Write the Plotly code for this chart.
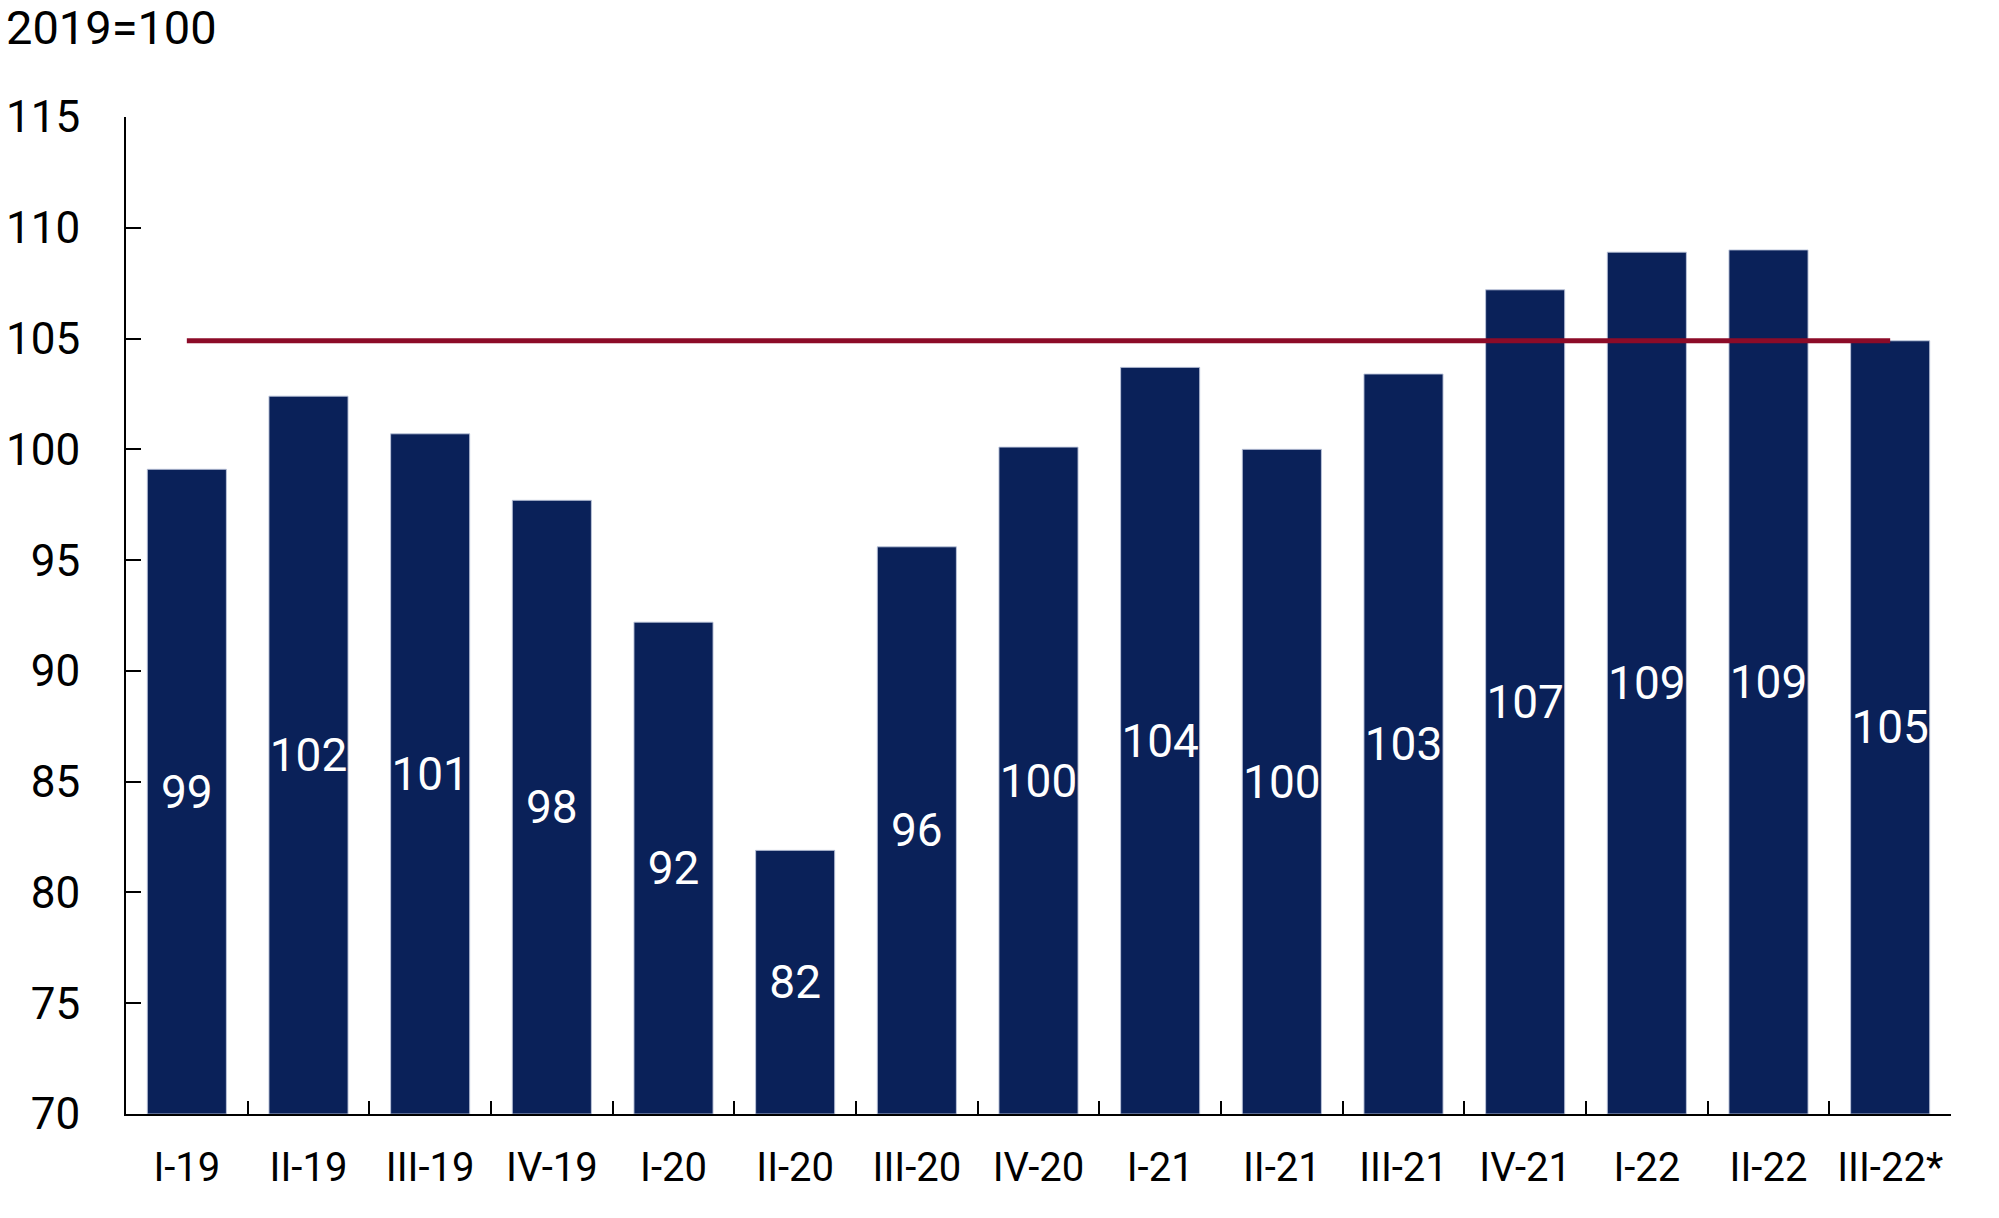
import plotly.graph_objects as go

categories = ["I-19", "II-19", "III-19", "IV-19", "I-20", "II-20", "III-20", "IV-20",
              "I-21", "II-21", "III-21", "IV-21", "I-22", "II-22", "III-22*"]
values = [99.1, 102.4, 100.7, 97.7, 92.2, 81.9, 95.6, 100.1,
          103.7, 100.0, 103.4, 107.2, 108.9, 109.0, 104.9]
reference_level = 104.9
y_min, y_max = 70, 115
y_tickvals = [70, 75, 80, 85, 90, 95, 100, 105, 110, 115]
unit_label = "2019=100"

BAR_COLOR = "#0a2159"
LINE_COLOR = "#8c0b28"
FONT = "Roboto"
FS = 44

fig = go.Figure()
fig.add_trace(go.Bar(
    x=categories, y=[v - y_min for v in values], base=y_min,
    marker=dict(color=BAR_COLOR, line=dict(color="rgba(190,198,220,0.9)", width=1)),
    text=[f"{round(v):d}" for v in values],
    textposition="inside", insidetextanchor="middle", textangle=0,
    constraintext="none",
    textfont=dict(family=FONT, size=46, color="white"),
    hoverinfo="skip", showlegend=False,
))
fig.add_trace(go.Scatter(
    x=[categories[0], categories[-1]], y=[reference_level, reference_level],
    mode="lines", line=dict(color=LINE_COLOR, width=5),
    hoverinfo="skip", showlegend=False,
))

fig.update_layout(
    width=1999, height=1218,
    margin=dict(l=126, r=48, t=117, b=104, autoexpand=False),
    paper_bgcolor="white", plot_bgcolor="white",
    bargap=0.35,
    font=dict(family=FONT, size=FS, color="black"),
    title=dict(text=unit_label, x=0.003, xref="container", xanchor="left",
               y=1 - 28 / 1218, yref="container", yanchor="middle",
               font=dict(family=FONT, size=47, color="black")),
)
fig.update_xaxes(
    range=[-0.5, 14.5], showline=True, linecolor="black", linewidth=2,
    ticks="inside", tickson="boundaries", ticklen=13, tickwidth=2, tickcolor="black",
    tickangle=0, automargin=False,
    ticklabelstandoff=17, showgrid=False, zeroline=False,
    tickfont=dict(family=FONT, size=40, color="black"),
)
fig.update_yaxes(
    range=[y_min, y_max], tickvals=y_tickvals, showline=True, linecolor="black", linewidth=2,
    ticks="inside", ticklen=15, tickwidth=2, tickcolor="black", automargin=False,
    ticklabelstandoff=35, showgrid=False, zeroline=False,
    tickfont=dict(family=FONT, size=FS, color="black"),
)

fig.write_html(
    "out.html",
    config={"displayModeBar": False},
    post_script="document.body.style.margin='0';document.body.style.overflow='hidden';",
)
